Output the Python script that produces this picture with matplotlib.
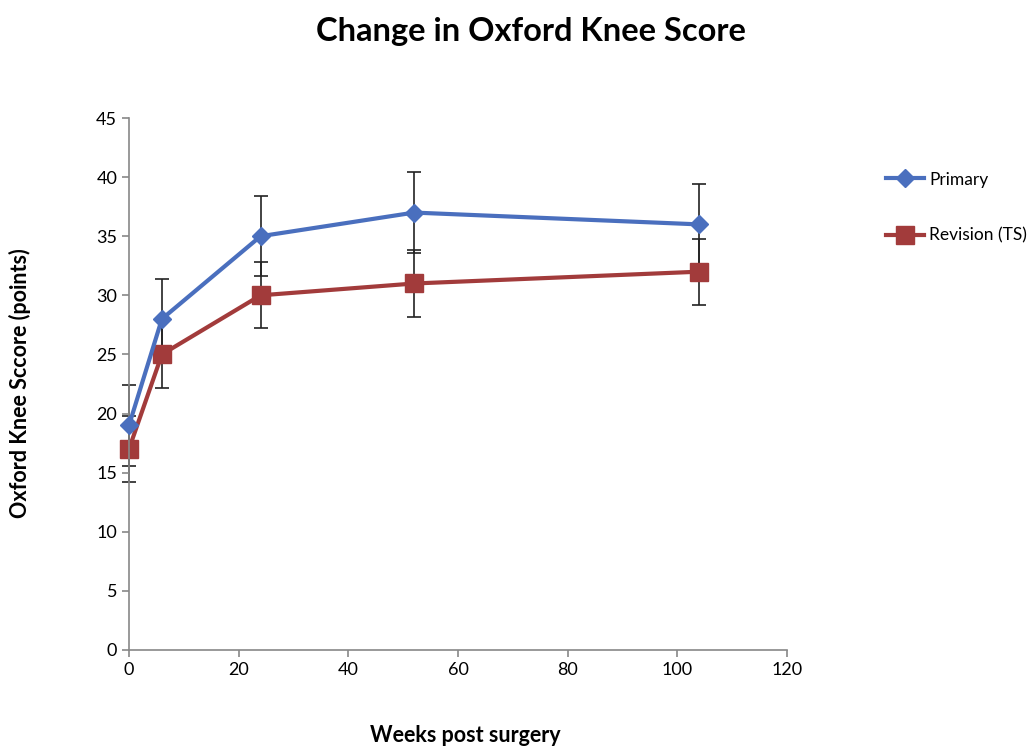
import matplotlib.pyplot as plt
from matplotlib.lines import Line2D

plt.rcParams['font.family'] = ['Lato', 'DejaVu Sans']

weeks = [0, 6, 24, 52, 104]
primary = [19, 28, 35, 37, 36]
primary_err = [3.4, 3.4, 3.4, 3.4, 3.4]
revision = [17, 25, 30, 31, 32]
revision_err = [2.8, 2.8, 2.8, 2.8, 2.8]

blue = '#4A6FBE'
red = '#A23B3B'

fig = plt.figure(figsize=(10.32, 7.47), dpi=100)
ax = fig.add_axes([0.125, 0.13, 0.6376, 0.712])

for vals, err in [(primary, primary_err), (revision, revision_err)]:
    eb = ax.errorbar(weeks, vals, yerr=err, fmt='none', ecolor='#222222',
                     elinewidth=1.2, capsize=5, capthick=1.2, zorder=1)
    for art in eb.lines[1] + eb.lines[2]:
        art.set_clip_on(False)
ax.plot(weeks, primary, color=blue, lw=3, marker='D', ms=9, zorder=3, clip_on=False)
ax.plot(weeks, revision, color=red, lw=3, marker='s', ms=13, zorder=2, clip_on=False)

ax.set_xlim(0, 120)
ax.set_ylim(0, 45)
ax.set_xticks(range(0, 121, 20))
ax.set_yticks(range(0, 46, 5))
for s in ['top', 'right']:
    ax.spines[s].set_visible(False)
for s in ['left', 'bottom']:
    ax.spines[s].set_color('#888888')
    ax.spines[s].set_linewidth(1.2)
ax.tick_params(colors='#888888', labelcolor='black', labelsize=13, length=5, width=1.2)

fig.text(0.514, 0.958, 'Change in Oxford Knee Score', ha='center', va='center',
         fontsize=23.5, fontweight='bold')
fig.text(0.451, 0.016, 'Weeks post surgery', ha='center', va='center',
         fontsize=15.5, fontweight='bold')
fig.text(0.019, 0.487, 'Oxford Knee Sccore (points)', ha='center', va='center',
         fontsize=15.5, fontweight='bold', rotation=90)

handles = [Line2D([], [], color=blue, lw=3, marker='D', ms=9),
           Line2D([], [], color=red, lw=3, marker='s', ms=13)]
fig.legend(handles, ['Primary', 'Revision (TS)'], loc='upper left',
           bbox_to_anchor=(0.855, 0.775), frameon=False, fontsize=12.5,
           labelspacing=2.3, handlelength=2.2, handletextpad=0.3,
           borderaxespad=0, borderpad=0.2)

fig.savefig('out.png')
